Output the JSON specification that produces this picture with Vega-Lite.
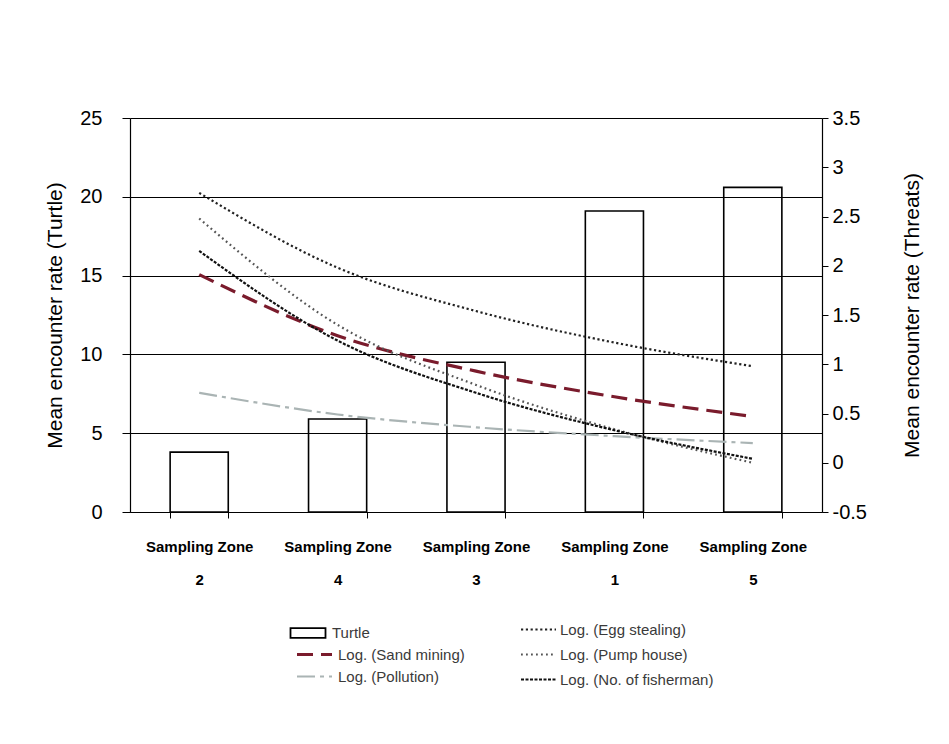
{
  "$schema": "https://vega.github.io/schema/vega-lite/v6.json",
  "width": 692,
  "height": 394,
  "autosize": {"type": "none"},
  "padding": {"left": 130, "top": 118, "right": 127, "bottom": 232},
  "background": "white",
  "config": {
    "view": {"stroke": null},
    "font": "Liberation Sans",
    "legend": {
      "orient": "none",
      "title": null,
      "labelFontSize": 15,
      "labelColor": "#3a3a3a",
      "labelFont": "Liberation Sans",
      "symbolSize": 196,
      "symbolFillColor": "transparent",
      "rowPadding": 8
    }
  },
  "datasets": {
    "turtle": [
      {"zone": "Sampling Zone 2", "series": "Turtle", "value": 3.8},
      {"zone": "Sampling Zone 4", "series": "Turtle", "value": 5.9},
      {"zone": "Sampling Zone 3", "series": "Turtle", "value": 9.5},
      {"zone": "Sampling Zone 1", "series": "Turtle", "value": 19.1},
      {"zone": "Sampling Zone 5", "series": "Turtle", "value": 20.6}
    ],
    "trends": [
      {"zone": "Sampling Zone 2", "series": "Log. (Egg stealing)", "value": 2.74},
      {"zone": "Sampling Zone 4", "series": "Log. (Egg stealing)", "value": 1.98},
      {"zone": "Sampling Zone 3", "series": "Log. (Egg stealing)", "value": 1.54},
      {"zone": "Sampling Zone 1", "series": "Log. (Egg stealing)", "value": 1.22},
      {"zone": "Sampling Zone 5", "series": "Log. (Egg stealing)", "value": 0.98},
      {"zone": "Sampling Zone 2", "series": "Log. (Pump house)", "value": 2.48},
      {"zone": "Sampling Zone 4", "series": "Log. (Pump house)", "value": 1.4},
      {"zone": "Sampling Zone 3", "series": "Log. (Pump house)", "value": 0.79},
      {"zone": "Sampling Zone 1", "series": "Log. (Pump house)", "value": 0.34},
      {"zone": "Sampling Zone 5", "series": "Log. (Pump house)", "value": 0.0},
      {"zone": "Sampling Zone 2", "series": "Log. (No. of fisherman)", "value": 2.15},
      {"zone": "Sampling Zone 4", "series": "Log. (No. of fisherman)", "value": 1.24},
      {"zone": "Sampling Zone 3", "series": "Log. (No. of fisherman)", "value": 0.71},
      {"zone": "Sampling Zone 1", "series": "Log. (No. of fisherman)", "value": 0.33},
      {"zone": "Sampling Zone 5", "series": "Log. (No. of fisherman)", "value": 0.04},
      {"zone": "Sampling Zone 2", "series": "Log. (Sand mining)", "value": 1.91},
      {"zone": "Sampling Zone 4", "series": "Log. (Sand mining)", "value": 1.29},
      {"zone": "Sampling Zone 3", "series": "Log. (Sand mining)", "value": 0.93},
      {"zone": "Sampling Zone 1", "series": "Log. (Sand mining)", "value": 0.67},
      {"zone": "Sampling Zone 5", "series": "Log. (Sand mining)", "value": 0.47},
      {"zone": "Sampling Zone 2", "series": "Log. (Pollution)", "value": 0.71},
      {"zone": "Sampling Zone 4", "series": "Log. (Pollution)", "value": 0.49},
      {"zone": "Sampling Zone 3", "series": "Log. (Pollution)", "value": 0.36},
      {"zone": "Sampling Zone 1", "series": "Log. (Pollution)", "value": 0.27},
      {"zone": "Sampling Zone 5", "series": "Log. (Pollution)", "value": 0.2}
    ]
  },
  "layer": [
    {
      "data": {"name": "turtle"},
      "mark": {"type": "bar", "filled": false, "strokeWidth": 1.6},
      "encoding": {
        "x": {
          "field": "zone",
          "type": "nominal",
          "scale": {
            "domain": ["Sampling Zone 2", "Sampling Zone 4", "Sampling Zone 3", "Sampling Zone 1", "Sampling Zone 5"],
            "paddingInner": 0.58,
            "paddingOuter": 0.29
          },
          "axis": {
            "title": null,
            "labelExpr": "datum.label ? ['Sampling Zone', slice(datum.label, 14)] : ''",
            "labelAngle": 0,
            "labelFontSize": 15,
            "labelFontWeight": "bold",
            "labelColor": "black",
            "labelLineHeight": 33,
            "labelPadding": 21,
            "tickBand": "extent",
            "tickSize": 6,
            "tickColor": "black",
            "domainColor": "black",
            "domainWidth": 1.2
          }
        },
        "y": {
          "field": "value",
          "type": "quantitative",
          "scale": {"domain": [0, 25]},
          "axis": {
            "title": "Mean encounter rate (Turtle)",
            "values": [0, 5, 10, 15, 20, 25],
            "grid": true,
            "gridColor": "black",
            "gridOpacity": 1,
            "gridWidth": 1.1,
            "domainColor": "black",
            "domainWidth": 1.2,
            "tickColor": "black",
            "tickSize": 8,
            "labelFontSize": 20,
            "labelColor": "black",
            "labelPadding": 20,
            "titleFontSize": 21,
            "titleFontWeight": "normal",
            "titleColor": "black",
            "titlePadding": 14
          }
        },
        "color": {
          "field": "series",
          "type": "nominal",
          "scale": {"domain": ["Turtle"], "range": ["#000000"]},
          "legend": {
            "legendX": 170,
            "legendY": 507,
            "symbolType": "M-2.5,-0.7H2.5V0.7H-2.5Z",
            "symbolStrokeWidth": 1.8,
            "labelOffset": 16
          }
        }
      }
    },
    {
      "data": {"name": "trends"},
      "transform": [{"filter": "datum.series === 'Log. (Sand mining)'"}],
      "mark": {"type": "line", "interpolate": "monotone", "strokeWidth": 3.2},
      "encoding": {
        "x": {"field": "zone", "type": "nominal"},
        "y": {
          "field": "value",
          "type": "quantitative",
          "scale": {"domain": [-0.5, 3.5]},
          "axis": {
            "orient": "right",
            "title": "Mean encounter rate (Threats)",
            "values": [-0.5, 0, 0.5, 1, 1.5, 2, 2.5, 3, 3.5],
            "labelExpr": "toString(datum.value)",
            "grid": false,
            "domainColor": "black",
            "domainWidth": 1.2,
            "tickColor": "black",
            "tickSize": 6,
            "labelFontSize": 20,
            "labelColor": "black",
            "labelPadding": 4,
            "titleFontSize": 21,
            "titleFontWeight": "normal",
            "titleColor": "black",
            "titleAngle": 270,
            "titlePadding": 56
          }
        },
        "color": {
          "field": "series",
          "type": "nominal",
          "scale": {"domain": ["Log. (Sand mining)"], "range": ["#7a1b2c"]},
          "legend": {
            "legendX": 176,
            "legendY": 528,
            "symbolType": "M-2.5,0H2.5",
            "symbolStrokeWidth": 3,
            "labelOffset": 15
          }
        },
        "strokeDash": {
          "field": "series",
          "type": "nominal",
          "scale": {"domain": ["Log. (Sand mining)"], "range": [[16, 8]]}
        }
      }
    },
    {
      "data": {"name": "trends"},
      "transform": [{"filter": "datum.series === 'Log. (Pollution)'"}],
      "mark": {"type": "line", "interpolate": "monotone", "strokeWidth": 2.2},
      "encoding": {
        "x": {"field": "zone", "type": "nominal"},
        "y": {"field": "value", "type": "quantitative", "scale": {"domain": [-0.5, 3.5]}, "axis": null},
        "color": {
          "field": "series",
          "type": "nominal",
          "scale": {"domain": ["Log. (Pollution)"], "range": ["#aab4b4"]},
          "legend": {
            "legendX": 176,
            "legendY": 550,
            "symbolType": "M-2.5,0H2.5",
            "symbolStrokeWidth": 2.2,
            "labelOffset": 15
          }
        },
        "strokeDash": {
          "field": "series",
          "type": "nominal",
          "scale": {"domain": ["Log. (Pollution)"], "range": [[18, 5, 4, 5]]}
        }
      }
    },
    {
      "data": {"name": "trends"},
      "transform": [{"filter": "datum.series !== 'Log. (Sand mining)' && datum.series !== 'Log. (Pollution)'"}],
      "mark": {"type": "line", "interpolate": "monotone", "strokeWidth": 2.2},
      "encoding": {
        "x": {"field": "zone", "type": "nominal"},
        "y": {"field": "value", "type": "quantitative", "scale": {"domain": [-0.5, 3.5]}, "axis": null},
        "color": {
          "field": "series",
          "type": "nominal",
          "scale": {
            "domain": ["Log. (Egg stealing)", "Log. (Pump house)", "Log. (No. of fisherman)"],
            "range": ["#222222", "#555555", "#111111"]
          },
          "legend": {
            "legendX": 400,
            "legendY": 503,
            "symbolType": "M-2.5,0H2.5",
            "symbolStrokeWidth": 2.2,
            "labelOffset": 13
          }
        },
        "strokeDash": {
          "field": "series",
          "type": "nominal",
          "scale": {
            "domain": ["Log. (Egg stealing)", "Log. (Pump house)", "Log. (No. of fisherman)"],
            "range": [[2.2, 2.6], [1.8, 3.2], [3, 1.5]]
          }
        }
      }
    }
  ],
  "resolve": {"scale": {"y": "independent", "color": "independent", "strokeDash": "independent"}}
}
